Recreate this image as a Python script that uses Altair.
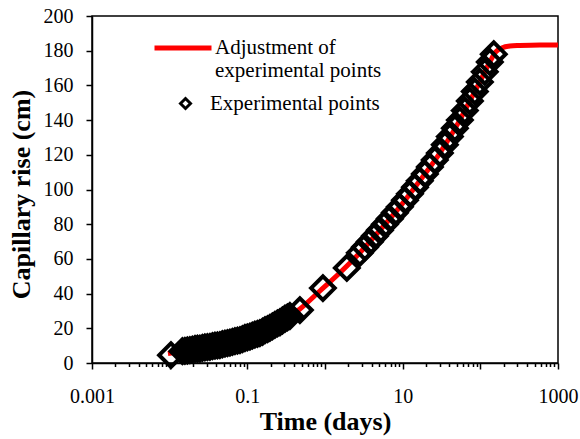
import altair as alt
import pandas as pd

# ---- data ----
fit_name = "Adjustment of experimental points"
exp_name = "Experimental points"

fit_t = [0.0095, 0.0136, 0.0245, 0.0443, 0.0804, 0.145, 0.263, 0.475, 0.859, 1.556,
         2.81, 5.09, 9.2, 16.6, 30.1, 54.5, 73.3, 98.6, 132.5, 158, 189, 240, 322, 583, 1000]
fit_h = [5.5, 6.6, 8.4, 10.4, 13.3, 17.3, 23.6, 31.1, 41.5, 52.0,
         63.5, 76.5, 90.0, 105.0, 121.0, 140.0, 151.0, 162.0, 173.5, 179.3, 181.6, 182.7, 183.0, 183.3, 183.3]

exp_t = [0.0104, 0.0146, 0.0157, 0.0169, 0.0182, 0.0196, 0.0212, 0.0228, 0.0245, 0.0264,
         0.0284, 0.0306, 0.0330, 0.0356, 0.0383, 0.0412, 0.0443, 0.0477, 0.0515, 0.0555,
         0.0597, 0.0643, 0.0692, 0.0746, 0.0804, 0.0865, 0.0931, 0.100, 0.108, 0.116,
         0.125, 0.135, 0.145, 0.157, 0.169, 0.182, 0.195, 0.210, 0.226, 0.244,
         0.263, 0.283, 0.305, 0.328, 0.353, 0.475, 0.94, 1.91, 2.81, 3.26,
         3.78, 4.39, 5.09, 5.90, 6.84, 7.94, 9.2, 10.7, 12.4, 14.4,
         16.6, 19.3, 22.4, 25.9, 30.1, 34.9, 40.5, 47.0, 54.5, 63.1,
         73.3, 84.9, 98.6, 114, 132.5, 149]
exp_h = [4.5, 6.8, 7.0, 7.2, 7.4, 7.7, 8.1, 8.2, 8.3, 8.7,
         9.0, 9.2, 9.3, 9.7, 10.0, 10.2, 10.3, 10.8, 11.2, 11.5,
         11.7, 12.2, 12.6, 12.9, 13.2, 13.8, 14.4, 14.8, 15.2, 15.8,
         16.4, 16.8, 17.2, 18.0, 18.9, 19.5, 20.2, 21.1, 22.0, 22.8,
         23.5, 24.5, 25.5, 26.3, 27.1, 30.5, 43.2, 54.8, 63.5, 66.7,
         69.9, 73.2, 76.5, 79.9, 83.2, 86.6, 90.0, 93.8, 97.5, 101.3,
         105.0, 109.0, 113.0, 117.0, 121.0, 125.8, 130.5, 135.3, 140.0, 145.5,
         151.0, 156.5, 162.0, 167.8, 173.5, 178.0]

x_major = [0.001, 0.01, 0.1, 1, 10, 100, 1000]
x_minor = [m * 10.0 ** e for e in range(-3, 3) for m in range(2, 10)]
y_ticks = list(range(0, 201, 20))

fit_df = pd.DataFrame({"t": fit_t, "h": fit_h, "name": fit_name})
exp_df = pd.DataFrame({"t": exp_t, "h": exp_h, "name": exp_name})

FONT = "Liberation Serif"
xscale = alt.Scale(type="log", domain=[0.001, 1000], nice=False)
yscale = alt.Scale(domain=[0, 200], nice=False)

yaxis = alt.Axis(
    title="Capillary rise (cm)", values=y_ticks, grid=False,
    tickSize=6, tickColor="black", tickWidth=1.5,
    domainColor="black", domainWidth=1.5,
    labelFont=FONT, labelFontSize=20, labelColor="black", labelPadding=13,
    titleFont=FONT, titleFontSize=26, titleFontWeight="bold", titleColor="black",
    titleX=-63, titleY=178, titleBaseline="alphabetic",
)

label_expr = (
    "(round(log(datum.value)/LN10) % 2 != 0) ? "
    "(datum.value >= 1 ? format(datum.value, 'd') : "
    "format(datum.value, '.' + (-round(log(datum.value)/LN10)) + 'f')) : ''"
)

xaxis_major = alt.Axis(
    title="Time (days)", values=x_major, grid=False, orient="bottom",
    tickSize=6, tickColor="black", tickWidth=1.5,
    domainColor="black", domainWidth=1.5,
    labelExpr=label_expr, labelFont=FONT, labelFontSize=20, labelColor="black",
    labelBaseline="alphabetic", labelPadding=33, labelFlush=False, labelOverlap=False,
    titleFont=FONT, titleFontSize=26, titleFontWeight="bold", titleColor="black",
    titleX=233, titleY=66, titleBaseline="alphabetic",
)

xaxis_minor = alt.Axis(
    title=None, values=x_minor, grid=False, orient="bottom",
    tickSize=3.5, tickColor="black", tickWidth=1.5,
    domain=False, labels=False,
)

line = alt.Chart(fit_df).mark_line(strokeWidth=5, interpolate="monotone").encode(
    x=alt.X("t:Q", scale=xscale, axis=xaxis_major),
    y=alt.Y("h:Q", scale=yscale, axis=yaxis),
    color=alt.Color(
        "name:N",
        scale=alt.Scale(domain=[fit_name], range=["#ff0000"]),
        legend=alt.Legend(
            title=None, orient="none", legendX=60, legendY=1, padding=0,
            symbolType="stroke", symbolSize=3249, symbolStrokeWidth=5,
            labelFont=FONT, labelFontSize=21, labelColor="black", labelOffset=1,
            labelExpr="['Adjustment of', 'experimental points']", labelLimit=400,
        ),
    ),
)

points = alt.Chart(exp_df).mark_point(
    shape="diamond", filled=False, color="black", size=560, strokeWidth=4, opacity=1
).encode(
    x=alt.X("t:Q", scale=xscale, axis=xaxis_minor),
    y=alt.Y("h:Q", scale=yscale, axis=yaxis),
    shape=alt.Shape(
        "name:N",
        scale=alt.Scale(domain=[exp_name], range=["diamond"]),
        legend=alt.Legend(
            title=None, orient="none", legendX=83, legendY=77, padding=0,
            symbolSize=100, symbolStrokeWidth=3, symbolStrokeColor="black",
            symbolFillColor="white",
            labelFont=FONT, labelFontSize=21, labelColor="black", labelOffset=14,
            labelLimit=400,
        ),
    ),
)

chart = (
    alt.layer(line, points)
    .resolve_scale(x="shared", y="shared", color="independent", shape="independent")
    .resolve_axis(x="independent", y="shared")
    .properties(
        width=466, height=347,
        autosize=alt.AutoSizeParams(type="none"),
        padding={"left": 92, "top": 16, "right": 22, "bottom": 76},
        background="white",
    )
    .configure_view(stroke="black", strokeWidth=1.5)
)

chart.save("out.html", embed_options={"renderer": "svg", "actions": False})
